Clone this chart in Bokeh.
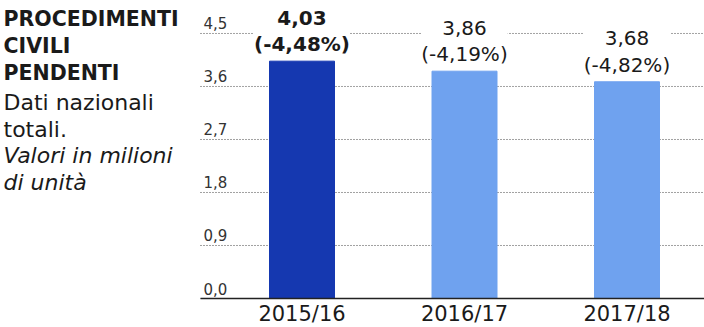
from bokeh.plotting import figure
from bokeh.models import ColumnDataSource, Range1d, FixedTicker
from bokeh.core.properties import value
from bokeh.embed import file_html
from bokeh.resources import INLINE

# ---- data ----
categories = ["2015/16", "2016/17", "2017/18"]
values = [4.03, 3.86, 3.68]
value_labels = ["4,03", "3,86", "3,68"]
changes = ["-4,48%", "-4,19%", "-4,82%"]
bar_colors = ["#1538b0", "#6fa2ef", "#6fa2ef"]
label_styles = ["bold", "normal", "normal"]
y_ticks = [0.0, 0.9, 1.8, 2.7, 3.6, 4.5]
y_tick_labels = ["0,0", "0,9", "1,8", "2,7", "3,6", "4,5"]
title_lines = ["PROCEDIMENTI", "CIVILI", "PENDENTI"]
subtitle_lines = ["Dati nazionali", "totali.", "Valori in milioni", "di unità"]
subtitle_styles = ["normal", "normal", "italic", "italic"]

FONT = "DejaVu Sans"
TXT = "#1a1a1a"

W, FH = 704, 298          # figure width, frame height (pixels)
PLOT_LEFT = 200           # where the chart area starts (pixels)
STEP = 162.5              # pixels between category centres
FIRST = 301.5             # pixel of the first category centre

view_start = -FIRST / STEP
view_end = (W - FIRST) / STEP
x_start = (PLOT_LEFT - FIRST) / STEP
x_end = view_end

idx = list(range(len(categories)))
p = figure(frame_width=W, frame_height=FH,
           x_range=Range1d(view_start, view_end), y_range=Range1d(0, 5.06),
           output_backend="svg", toolbar_location=None,
           y_axis_location=None, min_border=0)
p.outline_line_color = None
p.grid.visible = False
# pixel-space ranges for the side text
p.extra_x_ranges = {"px": Range1d(0, W)}
p.extra_y_ranges = {"py": Range1d(FH, 0)}

# grid lines (only across the chart area)
grid_src = ColumnDataSource(dict(x0=[x_start] * len(y_ticks), x1=[x_end] * len(y_ticks),
                                 y=y_ticks))
p.segment(x0="x0", y0="y", x1="x1", y1="y", source=grid_src,
          line_color="#444444", line_dash="1 2", line_width=1)

bar_src = ColumnDataSource(dict(x=idx, top=values, color=bar_colors,
                                label=[f"{v}\n({c})" for v, c in zip(value_labels, changes)],
                                style=label_styles))
p.vbar(x="x", top="top", width=0.4, color="color", source=bar_src)

p.text("x", "top", text="label", source=bar_src, text_font=value(FONT),
       text_font_size="20px", text_font_style="style", text_color=TXT,
       text_align="center", text_baseline="bottom", text_line_height=1.1,
       y_offset=-5, background_fill_color="white")

tick_src = ColumnDataSource(dict(x=[x_start] * len(y_ticks), y=y_ticks, text=y_tick_labels))
p.text("x", "y", text="text", source=tick_src, text_font=value(FONT),
       text_font_size="15px", text_color="#333333", text_align="left",
       text_baseline="bottom", x_offset=3, y_offset=-4)

# side title and subtitle
title_src = ColumnDataSource(dict(
    x=[3] * len(title_lines),
    y=[18 + 27 * i for i in range(len(title_lines))],
    text=title_lines))
p.text("x", "y", text="text", source=title_src, text_font=value(FONT),
       text_font_size="20.5px", text_font_style="bold", text_color=TXT,
       text_baseline="middle", text_align="left",
       x_range_name="px", y_range_name="py")

sub_src = ColumnDataSource(dict(
    x=[3] * len(subtitle_lines),
    y=[102 + 26.5 * i for i in range(len(subtitle_lines))],
    text=subtitle_lines, style=subtitle_styles))
p.text("x", "y", text="text", source=sub_src, text_font=value(FONT),
       text_font_size="22px", text_font_style="style", text_color=TXT,
       text_baseline="middle", text_align="left",
       x_range_name="px", y_range_name="py")

ax = p.xaxis[0]
ax.bounds = (x_start, x_end)
ax.ticker = FixedTicker(ticks=idx)
ax.major_label_overrides = {i: c for i, c in zip(idx, categories)}
ax.axis_line_color = "#222222"
ax.axis_line_width = 1.5
ax.major_tick_line_color = None
ax.minor_tick_line_color = None
ax.major_tick_out = 0
ax.major_tick_in = 0
ax.major_label_standoff = 3
ax.major_label_text_font = FONT
ax.major_label_text_font_size = "21px"
ax.major_label_text_color = TXT

open("out.html", "w").write(file_html(p, INLINE))
